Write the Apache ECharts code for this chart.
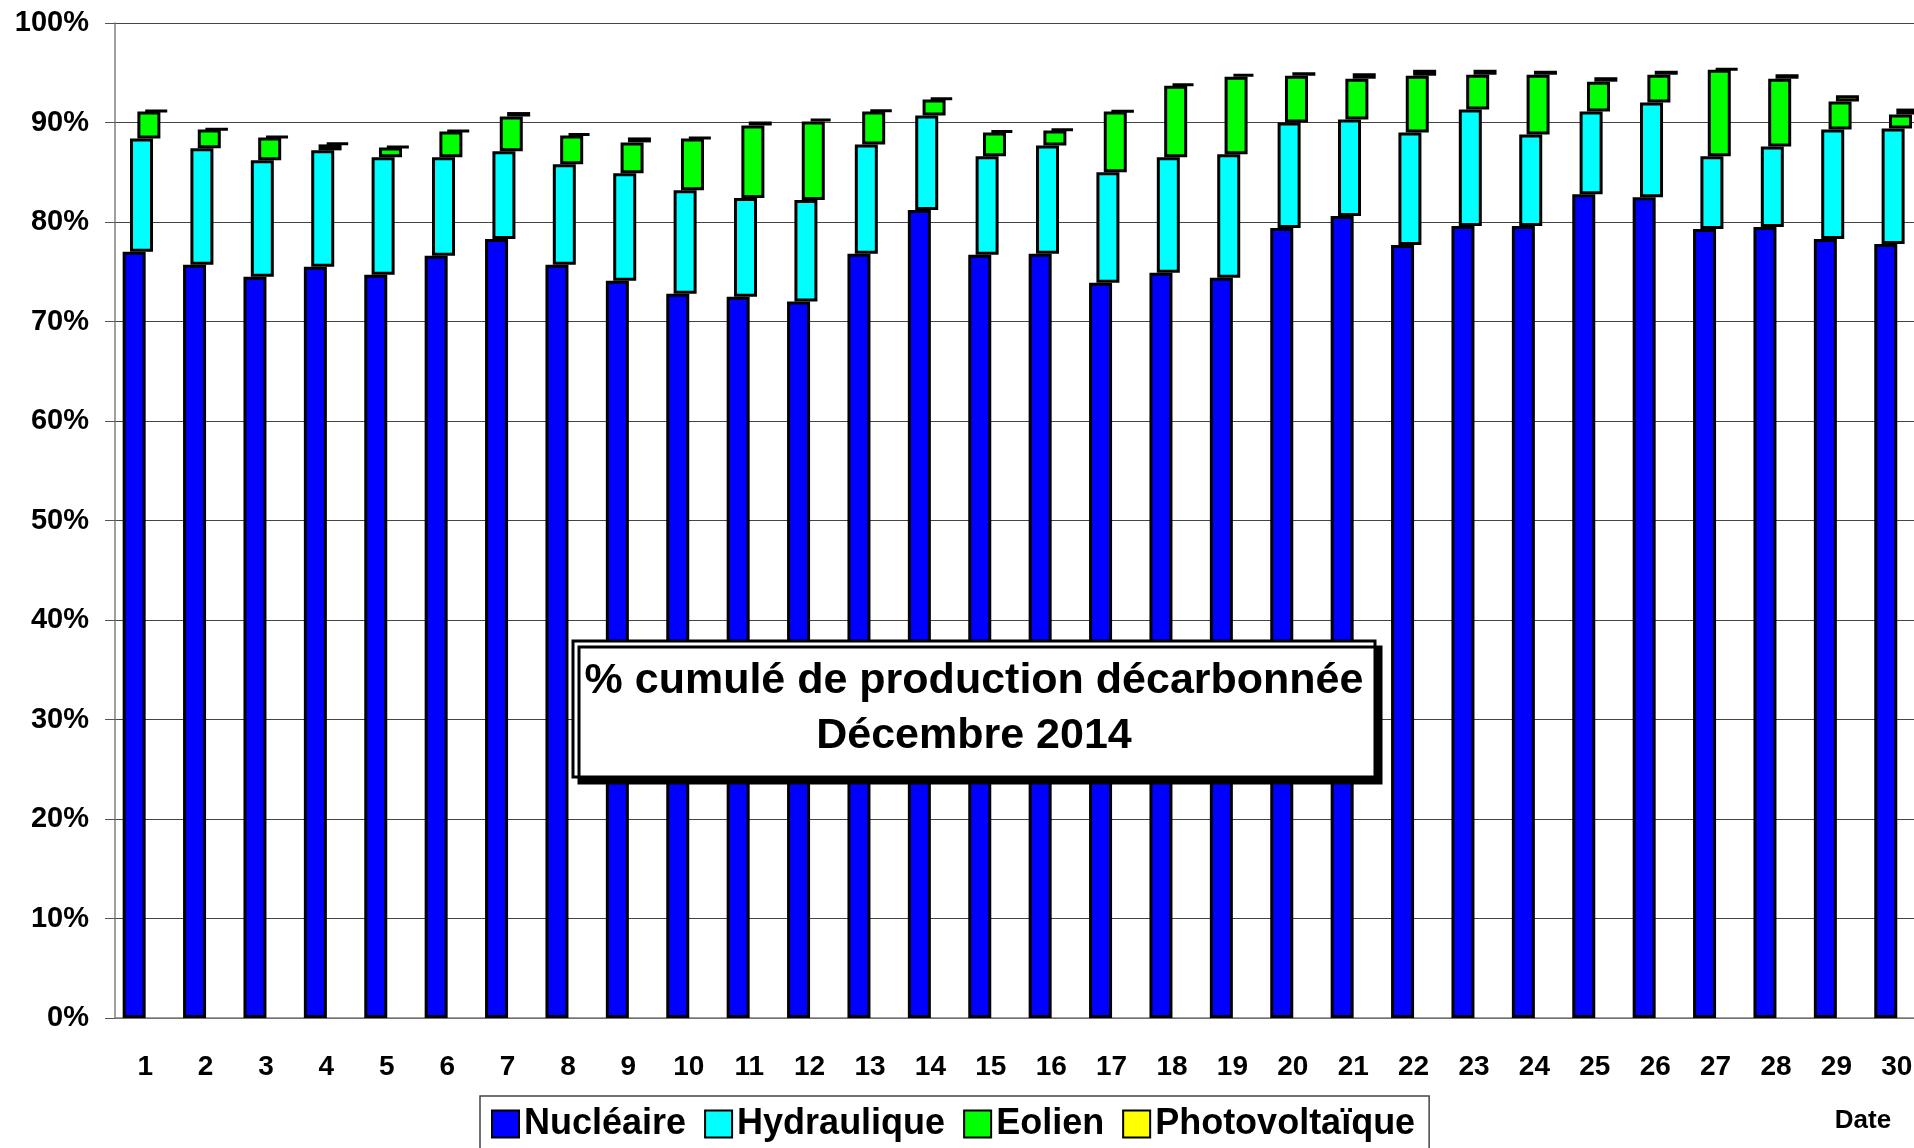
<!DOCTYPE html>
<html>
<head>
<meta charset="utf-8">
<title>% cumulé de production décarbonnée - Décembre 2014</title>
<script src="https://cdn.jsdelivr.net/npm/echarts@6/dist/echarts.min.js"></script>
<style>
  html, body { margin: 0; padding: 0; background: #fff; overflow: hidden; }
  #chart { width: 1914px; height: 1148px; }
</style>
</head>
<body>
<div id="chart"></div>
<script>
// jours (axe des x)
const days = ['1','2','3','4','5','6','7','8','9','10','11','12','13','14','15',
  '16','17','18','19','20','21','22','23','24','25','26','27','28','29','30'];

// parts de production en %
const nucleaire = [77.0, 75.7, 74.5, 75.5, 74.7, 76.6, 78.3, 75.7, 74.1, 72.8,
  72.5, 72.0, 76.8, 81.2, 76.7, 76.8, 73.9, 74.9, 74.4, 79.4,
  80.6, 77.7, 79.6, 79.6, 82.8, 82.5, 79.3, 79.5, 78.3, 77.8];
const hydraulique = [11.4, 11.7, 11.7, 11.7, 11.8, 9.9, 8.8, 10.1, 10.8, 10.4,
  9.9, 10.2, 11.0, 9.5, 9.9, 10.9, 11.1, 11.6, 12.4, 10.6,
  9.7, 11.3, 11.7, 9.2, 8.3, 9.5, 7.3, 8.1, 11.0, 11.6];
const eolien = [2.7, 1.9, 2.3, 0.6, 1.0, 2.6, 3.5, 2.9, 3.1, 5.2,
  7.3, 7.9, 3.3, 1.6, 2.4, 1.5, 6.1, 7.2, 7.8, 4.7,
  4.1, 5.7, 3.5, 6.0, 3.0, 2.8, 8.7, 6.8, 2.8, 1.4];
const photovoltaique = [0.1, 0.05, 0.1, 0.15, 0.1, 0.1, 0.45, 0.2, 0.5, 0.1,
  0.4, 0.3, 0.15, 0.15, 0.2, 0.15, 0.05, 0.2, 0.3, 0.35,
  0.55, 0.6, 0.5, 0.4, 0.45, 0.4, 0.1, 0.45, 0.65, 0.6];

const FONT = 'Liberation Sans, Arial, sans-serif';
const BAR_W = 23;
const BAR_GAP = '-68%';

// bases invisibles : chaque tranche démarre au sommet de la précédente
const baseHydro = nucleaire.map((v, i) => v);
const baseEolien = nucleaire.map((v, i) => v + hydraulique[i]);
const basePv = nucleaire.map((v, i) => v + hydraulique[i] + eolien[i]);

function visibleBar(name, stack, data, color) {
  return {
    name: name, type: 'bar', stack: stack, data: data,
    barWidth: BAR_W, barGap: BAR_GAP,
    itemStyle: { color: color, borderColor: '#000', borderWidth: 3 }
  };
}
function hiddenBar(stack, data) {
  return {
    name: 'base-' + stack, type: 'bar', stack: stack, data: data,
    barWidth: BAR_W, barGap: BAR_GAP, silent: true,
    itemStyle: { color: 'rgba(0,0,0,0)', borderWidth: 0 },
    emphasis: { disabled: true }
  };
}

const myChart = echarts.init(document.getElementById('chart'));

myChart.setOption({
  animation: false,
  // le graphique d'origine est coupé à droite : on laisse la grille dépasser
  grid: { left: 115, top: 23, width: 1812, height: 995, outerBoundsMode: 'none', containLabel: false },
  legend: {
    data: ['Nucléaire', 'Hydraulique', 'Eolien', 'Photovoltaïque'],
    left: 480, top: 1096,
    icon: 'rect', itemWidth: 27, itemHeight: 27, itemGap: 18,
    padding: [10, 14, 10, 11],
    borderColor: '#444', borderWidth: 1.5,
    itemStyle: { borderColor: '#000', borderWidth: 2 },
    textStyle: { fontFamily: FONT, fontSize: 36, fontWeight: 'bold', color: '#000' }
  },
  xAxis: {
    type: 'category',
    data: days,
    axisLine: { lineStyle: { color: '#808080', width: 1.5 } },
    axisTick: { length: 10, interval: 0, lineStyle: { color: '#555' } },
    axisLabel: { interval: 0, margin: 35, fontFamily: FONT, fontSize: 28, fontWeight: 'bold', color: '#000' }
  },
  yAxis: {
    type: 'value',
    min: 0, max: 100, interval: 10,
    axisLine: { show: true, lineStyle: { color: '#808080', width: 1.5 } },
    axisTick: { show: true, length: 10, lineStyle: { color: '#555' } },
    axisLabel: { formatter: '{value}%', margin: 26, fontFamily: FONT, fontSize: 29, fontWeight: 'bold', color: '#000' },
    splitLine: { lineStyle: { color: '#444', width: 1 } }
  },
  series: [
    visibleBar('Nucléaire', 'n', nucleaire, '#0000FF'),
    hiddenBar('h', baseHydro),
    visibleBar('Hydraulique', 'h', hydraulique, '#00FFFF'),
    hiddenBar('e', baseEolien),
    visibleBar('Eolien', 'e', eolien, '#00FF00'),
    hiddenBar('p', basePv),
    visibleBar('Photovoltaïque', 'p', photovoltaique, '#FFFF00')
  ],
  graphic: [
    {
      type: 'rect', z: 100,
      shape: { x: 573, y: 641, width: 802, height: 136 },
      style: { fill: '#fff', stroke: '#000', lineWidth: 3,
        shadowColor: '#000', shadowOffsetX: 6, shadowOffsetY: 6, shadowBlur: 0 }
    },
    {
      type: 'text', z: 101,
      x: 974, y: 709,
      style: {
        text: '% cumulé de production décarbonnée\nDécembre 2014',
        font: 'bold 43px ' + FONT,
        lineHeight: 55,
        align: 'center', verticalAlign: 'middle', fill: '#000'
      }
    },
    {
      type: 'text', z: 101,
      x: 1863, y: 1121,
      style: { text: 'Date', font: 'bold 26px ' + FONT, align: 'center', verticalAlign: 'middle', fill: '#000' }
    }
  ]
});
</script>
</body>
</html>
